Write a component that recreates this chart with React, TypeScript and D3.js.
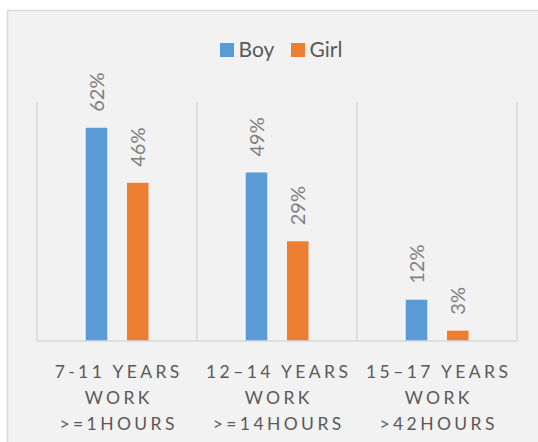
import React from "react";
import * as d3 from "d3";

const categories: string[][] = [
  ["7-11 YEARS", "WORK", ">=1HOURS"],
  ["12–14 YEARS", "WORK", ">=14HOURS"],
  ["15–17 YEARS", "WORK", ">42HOURS"],
];
const seriesNames = ["Boy", "Girl"];
const boyValues = [0.62, 0.49, 0.12];
const girlValues = [0.46, 0.29, 0.03];
const colors = ["#5b9bd5", "#ed7d31"];

const W = 538;
const H = 442;
const plot = { left: 37, right: 517, top: 102, bottom: 341 };
const FONT = "Lato, 'Open Sans', sans-serif";

export default function App() {
  const x = d3
    .scaleBand<number>()
    .domain(d3.range(categories.length))
    .range([plot.left, plot.right])
    .padding(0);
  const y = d3.scaleLinear().domain([0, 0.695]).range([plot.bottom, plot.top]);
  const barW = 21.5;
  const offsets = [-20.5, 20.75];
  const series = [boyValues, girlValues];

  const boundaries = d3.range(categories.length + 1).map((i) =>
    i < categories.length ? (x(i) as number) : plot.right
  );

  return (
    <svg
      width={W}
      height={H}
      style={{ position: "absolute", left: 0, top: 0, fontFamily: FONT }}
    >
      <rect x={0} y={0} width={W} height={H} fill="#ffffff" />
      <rect
        x={7.5}
        y={10.5}
        width={W}
        height={H}
        fill="#f2f2f2"
        stroke="#d9d9d9"
        strokeWidth={1.5}
      />
      {/* legend */}
      <g>
        <rect x={220} y={43} width={14} height={14} fill={colors[0]} />
        <text x={238.5} y={56.5} fontSize={21} fill="#595959">
          {seriesNames[0]}
        </text>
        <rect x={291} y={43} width={14} height={14} fill={colors[1]} />
        <text x={309.5} y={56.5} fontSize={21} fill="#595959">
          {seriesNames[1]}
        </text>
      </g>
      {/* gridlines */}
      {boundaries.map((bx, i) => (
        <line
          key={"v" + i}
          x1={bx}
          x2={bx}
          y1={plot.top}
          y2={plot.bottom}
          stroke="#d9d9d9"
          strokeWidth={1.5}
        />
      ))}
      {/* bars */}
      {series.map((vals, s) =>
        vals.map((v, i) => {
          const cx = (x(i) as number) + x.bandwidth() / 2 + offsets[s];
          return (
            <rect
              key={`b${s}-${i}`}
              x={cx - barW / 2}
              y={y(v)}
              width={barW}
              height={y(0) - y(v)}
              fill={colors[s]}
            />
          );
        })
      )}
      <line
        x1={plot.left}
        x2={plot.right}
        y1={plot.bottom}
        y2={plot.bottom}
        stroke="#d9d9d9"
        strokeWidth={1.5}
      />
      {/* data labels */}
      {series.map((vals, s) =>
        vals.map((v, i) => {
          const cx = (x(i) as number) + x.bandwidth() / 2 + offsets[s];
          const ty = y(v) - 16;
          return (
            <text
              key={`l${s}-${i}`}
              transform={`translate(${cx},${ty}) rotate(-90)`}
              dy="0.36em"
              fontSize={20}
              fill="#808080"
              textAnchor="start"
            >
              {d3.format(".0%")(v)}
            </text>
          );
        })
      )}
      {/* category labels */}
      {categories.map((lines, i) => {
        const cx = (x(i) as number) + x.bandwidth() / 2;
        return (
          <g key={"c" + i}>
            {lines.map((ln, j) => (
              <text
                key={j}
                x={cx + 1.7}
                y={378 + j * 26}
                fontSize={17.5}
                letterSpacing={3.4}
                fill="#595959"
                textAnchor="middle"
              >
                {ln}
              </text>
            ))}
          </g>
        );
      })}
    </svg>
  );
}
